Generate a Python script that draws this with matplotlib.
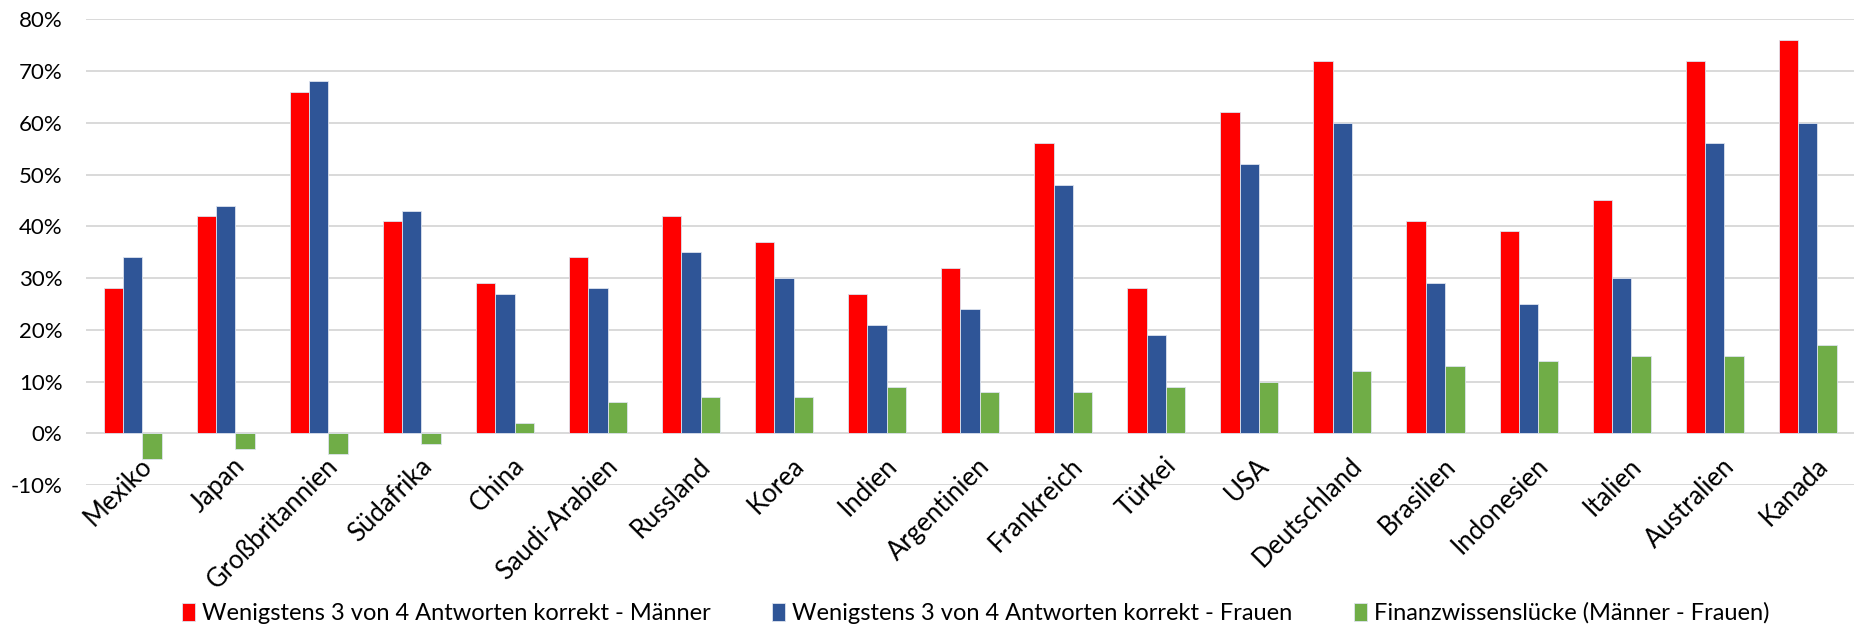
import matplotlib.pyplot as plt
from matplotlib.ticker import FuncFormatter
import matplotlib.transforms as mtransforms
import numpy as np

plt.rcParams['font.family'] = ['Lato', 'DejaVu Sans']

laender = ['Mexiko', 'Japan', 'Großbritannien', 'Südafrika', 'China', 'Saudi-Arabien',
           'Russland', 'Korea', 'Indien', 'Argentinien', 'Frankreich', 'Türkei', 'USA',
           'Deutschland', 'Brasilien', 'Indonesien', 'Italien', 'Australien', 'Kanada']
maenner = [28, 42, 66, 41, 29, 34, 42, 37, 27, 32, 56, 28, 62, 72, 41, 39, 45, 72, 76]
frauen = [34, 44, 68, 43, 27, 28, 35, 30, 21, 24, 48, 19, 52, 60, 29, 25, 30, 56, 60]
luecke = [-5, -3, -4, -2, 2, 6, 7, 7, 9, 8, 8, 9, 10, 12, 13, 14, 15, 15, 17]

namen = ['Wenigstens 3 von 4 Antworten korrekt - Männer',
         'Wenigstens 3 von 4 Antworten korrekt - Frauen',
         'Finanzwissenslücke (Männer - Frauen)']
farben = ['#FF0000', '#2F5597', '#70AD47']

fig = plt.figure(figsize=(18.58, 6.27), dpi=100)
ax = fig.add_axes([0.0463, 0.2265, 0.9517, 0.7427])

x = np.arange(len(laender))
b = 0.208
for k, (werte, name, farbe) in enumerate(zip([maenner, frauen, luecke], namen, farben)):
    ax.bar(x + (k - 1) * b, np.array(werte) / 100, width=b, color=farbe,
           edgecolor='#dde3ee', linewidth=0.6, label=name, zorder=3)

ax.set_xlim(-0.5, len(laender) - 0.5)
ax.set_ylim(-0.1, 0.8)
ax.set_yticks(np.arange(-0.1, 0.81, 0.1))
ax.yaxis.set_major_formatter(FuncFormatter(lambda v, p: f'{v * 100:.0f}%'))
ax.tick_params(axis='y', length=0, pad=17, labelsize=16)
ax.grid(axis='y', color='#d9d9d9', linewidth=1.4, zorder=0)
ax.set_xticks([])
for s in ax.spines.values():
    s.set_visible(False)

# Länderbeschriftung direkt unter der Nulllinie
versatz = mtransforms.offset_copy(ax.transData, fig=fig, x=7, y=-20, units='dots')
for i, land in enumerate(laender):
    ax.text(i, 0, land, rotation=45, ha='right', va='top', rotation_mode='anchor',
            fontsize=18.5, transform=versatz)

fig.legend(loc='center', bbox_to_anchor=(0.525, 0.022), ncol=3, frameon=False,
           fontsize=17, handlelength=0.55, handleheight=0.8, handletextpad=0.3,
           columnspacing=2.6, borderpad=0)

fig.savefig('out.png', dpi=100)
